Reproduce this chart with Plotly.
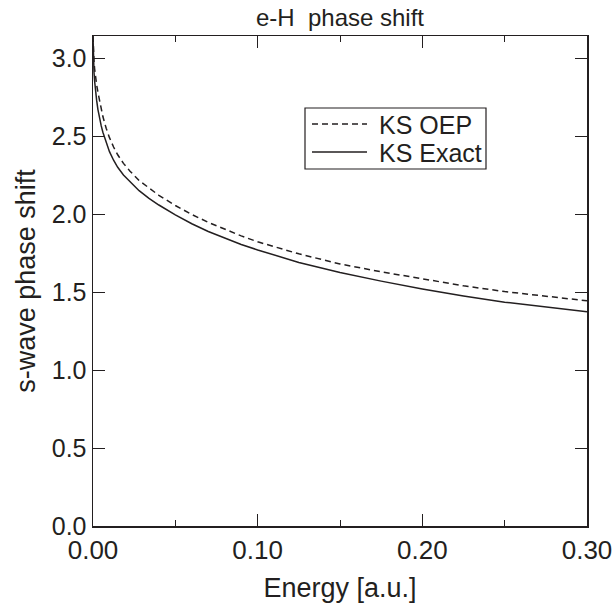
import plotly.graph_objects as go

series_names = ["KS OEP", "KS Exact"]

# KS Exact (solid)
energy_exact = [0.0, 0.0001, 0.0003, 0.0006, 0.001, 0.0015, 0.0022, 0.003, 0.004, 0.005,
                0.006, 0.008, 0.010, 0.0125, 0.015, 0.0185, 0.0225, 0.028, 0.034, 0.04,
                0.05, 0.06, 0.07, 0.08, 0.09, 0.10, 0.125, 0.15, 0.175, 0.20,
                0.225, 0.25, 0.275, 0.30]
phase_exact = [3.1416, 3.05, 2.98, 2.91, 2.85, 2.79, 2.73, 2.67, 2.61, 2.565,
               2.525, 2.455, 2.40, 2.345, 2.30, 2.25, 2.205, 2.15, 2.10, 2.058,
               1.995, 1.938, 1.888, 1.845, 1.805, 1.77, 1.69, 1.625, 1.57, 1.52,
               1.475, 1.435, 1.403, 1.374]

# KS OEP (dashed)
energy_oep = [0.0, 0.0001, 0.0003, 0.0006, 0.001, 0.0015, 0.0022, 0.003, 0.004, 0.005,
              0.006, 0.008, 0.010, 0.0125, 0.015, 0.0185, 0.0225, 0.028, 0.034, 0.04,
              0.05, 0.06, 0.07, 0.08, 0.09, 0.10, 0.125, 0.15, 0.175, 0.20,
              0.225, 0.25, 0.275, 0.30]
phase_oep = [3.1416, 3.08, 3.03, 2.98, 2.93, 2.88, 2.83, 2.78, 2.72, 2.67,
             2.625, 2.55, 2.49, 2.43, 2.38, 2.325, 2.275, 2.215, 2.165, 2.12,
             2.055, 1.997, 1.947, 1.902, 1.86, 1.822, 1.745, 1.68, 1.63, 1.585,
             1.54, 1.503, 1.472, 1.444]

x_ticks = [0.0, 0.1, 0.2, 0.3]
x_ticklabels = ["0.00", "0.10", "0.20", "0.30"]
y_ticks = [0.0, 0.5, 1.0, 1.5, 2.0, 2.5, 3.0]
y_ticklabels = ["0.0", "0.5", "1.0", "1.5", "2.0", "2.5", "3.0"]

INK = "#231f20"
FONT = "Liberation Sans, Arial, Helvetica, sans-serif"
DASH = "6px,4px"

W, H = 614, 605
# plot area in window pixels: x 93..587, y 36..526
L, R, T, B = 93, 587, 36, 526

def px(xp):
    return (xp - L) / (R - L)

def py(yp):
    return (B - yp) / (B - T)

fig = go.Figure()
fig.add_trace(go.Scatter(x=energy_oep, y=phase_oep, mode="lines", name=series_names[0],
                         line=dict(color=INK, width=1.5, dash=DASH), showlegend=False))
fig.add_trace(go.Scatter(x=energy_exact, y=phase_exact, mode="lines", name=series_names[1],
                         line=dict(color=INK, width=1.5), showlegend=False))

# legend drawn as a framed key
shapes = [
    dict(type="rect", xref="paper", yref="paper", x0=px(305), x1=px(486), y0=py(169), y1=py(108),
         line=dict(color=INK, width=1.2), fillcolor="white", layer="above"),
    dict(type="line", xref="paper", yref="paper", x0=px(312), x1=px(367), y0=py(124), y1=py(124),
         line=dict(color=INK, width=1.5, dash=DASH)),
    dict(type="line", xref="paper", yref="paper", x0=px(312), x1=px(367), y0=py(152), y1=py(152),
         line=dict(color=INK, width=1.5)),
]
annotations = [
    dict(text=series_names[0], xref="paper", yref="paper", x=px(377), y=py(125), xanchor="left",
         yanchor="middle", showarrow=False, font=dict(size=25, color=INK, family=FONT)),
    dict(text=series_names[1], xref="paper", yref="paper", x=px(377), y=py(153), xanchor="left",
         yanchor="middle", showarrow=False, font=dict(size=25, color=INK, family=FONT)),
]

fig.update_layout(
    width=W, height=H,
    paper_bgcolor="white", plot_bgcolor="white",
    margin=dict(l=L, r=W - R, t=T, b=H - B),
    font=dict(family=FONT, color=INK, size=25),
    title=dict(text="e-H\u00a0 phase shift", x=340 / W, xanchor="center",
               y=1 - 18 / H, yanchor="middle", yref="container",
               font=dict(size=24, color=INK, family=FONT)),
    showlegend=False,
    shapes=shapes,
    annotations=annotations,
)

fig.update_xaxes(range=[0, 0.3], tickvals=x_ticks, ticktext=x_ticklabels,
                 showline=True, linecolor=INK, linewidth=1.5, mirror="allticks",
                 ticks="inside", ticklen=12, tickwidth=1, tickcolor=INK,
                 minor=dict(dtick=0.05, ticks="inside", ticklen=6, tickwidth=1, tickcolor=INK),
                 showgrid=False, zeroline=False, automargin=False,
                 tickfont=dict(size=26, color=INK, family=FONT),
                 title=dict(text="Energy [a.u.]", font=dict(size=27, color=INK, family=FONT), standoff=14))
fig.update_yaxes(range=[0, 3.1416], tickvals=y_ticks, ticktext=y_ticklabels,
                 showline=True, linecolor=INK, linewidth=1.5, mirror="allticks",
                 ticks="inside", ticklen=12, tickwidth=1, tickcolor=INK,
                 showgrid=False, zeroline=False, automargin=False,
                 tickfont=dict(size=25, color=INK, family=FONT),
                 title=dict(text="s-wave phase shift", font=dict(size=27, color=INK, family=FONT), standoff=8))

# remove the browser's default 8px body margin so the figure fills the window
fig.write_html("out.html",
               config={"displayModeBar": False, "staticPlot": True},
               post_script="document.body.style.margin='0';document.documentElement.style.overflow='hidden';")
